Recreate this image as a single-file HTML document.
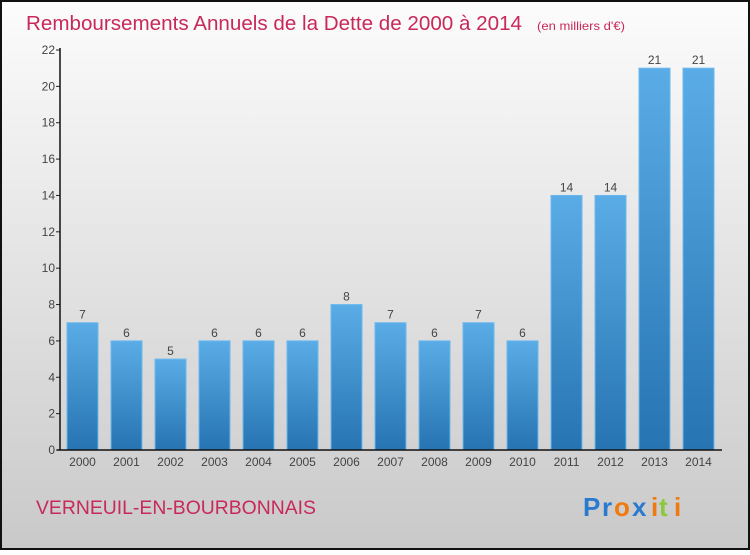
<!DOCTYPE html>
<html><head><meta charset="utf-8"><style>
body{margin:0}
#c{width:750px;height:550px;position:relative;font-family:"Liberation Sans",sans-serif}
</style></head><body>
<div id="c">
<svg width="750" height="550" id="svg">
<defs>
<linearGradient id="bg" x1="0" y1="0" x2="0" y2="1"><stop offset="0" stop-color="#fcfcfc"/><stop offset="1" stop-color="#c9c9c9"/></linearGradient>
<linearGradient id="bar" x1="0" y1="0" x2="0" y2="1"><stop offset="0" stop-color="#5aace6"/><stop offset="1" stop-color="#2674b2"/></linearGradient>
</defs>
<rect x="1" y="1" width="748" height="548" fill="url(#bg)" stroke="#111" stroke-width="2"/>
<text x="26" y="30" font-size="20" fill="#c8285a"><tspan textLength="496" lengthAdjust="spacingAndGlyphs">Remboursements Annuels de la Dette de 2000 à 2014</tspan><tspan font-size="12" x="537" textLength="88" lengthAdjust="spacingAndGlyphs">(en milliers d'€)</tspan></text>
<g id="g"></g>
<text x="36" y="514" font-size="19" fill="#c8285a" textLength="280" lengthAdjust="spacingAndGlyphs">VERNEUIL-EN-BOURBONNAIS</text>
<g font-size="26" font-weight="bold">
<text x="583" y="516" fill="#2a7bd0">P</text><text x="602" y="516" fill="#2a7bd0">r</text><text x="614" y="516" fill="#f07a10">o</text><text x="632" y="516" fill="#2a7bd0">x</text><text x="651" y="516" fill="#f07a10">i</text><text x="659" y="516" fill="#8cc83c">t</text><text x="674" y="516" fill="#f07a10">i</text>
</g>
</svg>
</div>
<script>
const years=["2000","2001","2002","2003","2004","2005","2006","2007","2008","2009","2010","2011","2012","2013","2014"];
const values=[7,6,5,6,6,6,8,7,6,7,6,14,14,21,21];
const yTicks=[0,2,4,6,8,10,12,14,16,18,20,22];
const ns="http://www.w3.org/2000/svg";
const g=document.getElementById('g');
const y0=450,yTop=50,yMax=22,x0=60,step=44,bw=31;
function ys(v){return y0-(v/yMax)*(y0-yTop);}
function xs(i){return x0+7+i*step;}
function el(t,a){const e=document.createElementNS(ns,t);for(const k in a)e.setAttribute(k,a[k]);g.appendChild(e);return e;}
yTicks.forEach(v=>{
 const l=el('line',{x1:x0-4,x2:x0,y1:ys(v),y2:ys(v),stroke:'#222'});
 
 
 const t=el('text',{x:x0-5,y:ys(v)+4,'font-size':12,'text-anchor':'end',fill:'#444'});
 t.textContent=v;
 
 
});
values.forEach((v,i)=>{
 const r=el('rect',{x:xs(i),y:ys(v),width:bw,height:y0-ys(v),fill:'url(#bar)',stroke:'#6cb8ee','stroke-width':1});
 
 
 const t=el('text',{x:xs(i)+bw/2,y:ys(v)-4,'font-size':12,'text-anchor':'middle',fill:'#444'});
 t.textContent=v;
 
 
 const yl=el('text',{x:xs(i)+bw/2,y:y0+16,'font-size':12,'text-anchor':'middle',fill:'#444'});
 yl.textContent=years[i];
 
 
});
const ya=el('line',{x1:x0,x2:x0,y1:yTop-2,y2:y0,stroke:'#111','stroke-width':1.5});


const xa=el('line',{x1:x0-3,x2:722,y1:y0,y2:y0,stroke:'#111','stroke-width':1.5});


</script>
</body></html>
